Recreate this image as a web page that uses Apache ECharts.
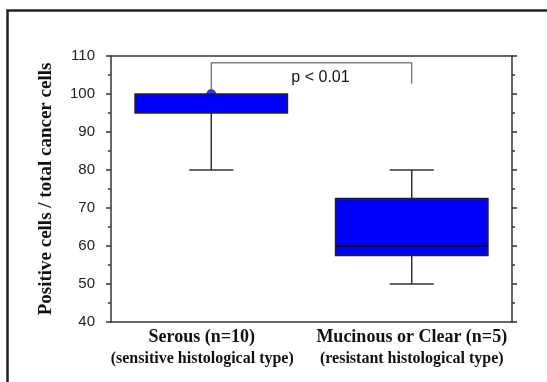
<!DOCTYPE html>
<html>
<head>
<meta charset="utf-8">
<script src="https://cdn.jsdelivr.net/npm/echarts@6/dist/echarts.min.js"></script>
<style>html,body{margin:0;padding:0;background:#fff;}#c{width:547px;height:382px;}</style>
</head>
<body>
<div id="c"></div>
<script>
// ---- data ----
const categories = ['Serous (n=10)', 'Mucinous or Clear (n=5)'];
const subLabels = ['(sensitive histological type)', '(resistant histological type)'];
const mins = [80, 50];
const q1s = [95, 57.5];
const medians = [100, 60];
const q3s = [100, 72.5];
const maxs = [100, 80];
const topMarker = [100, null];
const yTicks = [40, 50, 60, 70, 80, 90, 100, 110];
const bracketY = 108.2;
const bracketLegEnd = [101.2, 102.7];
const pLabel = 'p < 0.01';
const yTitle = 'Positive cells / total cancer cells';

const boxData = categories.map((c, i) => [i, mins[i], q1s[i], medians[i], q3s[i], maxs[i]]);
const markerData = topMarker.map((v, i) => v == null ? null : [i, v]).filter(d => d);

const chart = echarts.init(document.getElementById('c'), null, {renderer: 'canvas'});
const axisColor = '#333';
const serif = '"Liberation Serif","Times New Roman",serif';

const option = {
  backgroundColor: '#fff',
  animation: false,
  graphic: [{
    type: 'polyline', x: 0, y: 0, silent: true, z: -1,
    shape: {points: [[7.5, 390], [7.5, 10.5], [560, 10.5]]},
    style: {fill: 'none', stroke: '#222', lineWidth: 2.5}
  }],
  grid: {left: 111, right: 35, top: 56, bottom: 60},
  xAxis: [{
    type: 'category', data: categories, boundaryGap: true, position: 'bottom',
    axisLine: {lineStyle: {color: axisColor, width: 1.5}},
    axisTick: {alignWithLabel: true, length: 4, lineStyle: {color: axisColor, width: 1.5}},
    axisLabel: {
      margin: 4, interval: 0,
      formatter: (v, i) => i === 0 ? '{a0|' + v + '}\n{b0|' + subLabels[i] + '}' : '{a|' + v + '}\n{b|' + subLabels[i] + '}',
      rich: {
        a: {fontFamily: serif, fontWeight: 'bold', fontSize: 18, color: '#111', lineHeight: 22},
        b: {fontFamily: serif, fontWeight: 'bold', fontSize: 16, color: '#111', lineHeight: 21},
        a0: {fontFamily: serif, fontWeight: 'bold', fontSize: 18, color: '#111', lineHeight: 22, padding: [0, 19, 0, 0]},
        b0: {fontFamily: serif, fontWeight: 'bold', fontSize: 16, color: '#111', lineHeight: 21, padding: [0, 18, 0, 0]}
      }
    },
    splitLine: {show: false}
  }, {
    type: 'category', data: categories, boundaryGap: true, position: 'top',
    axisLine: {lineStyle: {color: axisColor, width: 1.5}},
    axisTick: {alignWithLabel: true, length: 3, lineStyle: {color: axisColor, width: 1.5}},
    axisLabel: {show: false},
    splitLine: {show: false}
  }],
  yAxis: [{
    type: 'value', min: yTicks[0], max: yTicks[yTicks.length - 1], interval: 10, position: 'left',
    name: yTitle, nameLocation: 'middle', nameRotate: 90, nameGap: 55,
    nameTextStyle: {fontFamily: serif, fontWeight: 'bold', fontSize: 19, color: '#111'},
    axisLine: {show: true, lineStyle: {color: axisColor, width: 1.5}},
    axisTick: {show: true, length: 5, lineStyle: {color: axisColor, width: 1.5}},
    minorTick: {show: true, splitNumber: 2, length: 3, lineStyle: {color: axisColor, width: 1.5}},
    axisLabel: {margin: 16, fontFamily: '"Liberation Sans",Arial,sans-serif', fontSize: 15, color: '#222'},
    splitLine: {show: false}
  }, {
    type: 'value', min: yTicks[0], max: yTicks[yTicks.length - 1], interval: 10, position: 'right',
    axisLine: {show: true, lineStyle: {color: axisColor, width: 1.5}},
    axisTick: {show: true, length: 5, lineStyle: {color: axisColor, width: 1.5}},
    minorTick: {show: true, splitNumber: 2, length: 3, lineStyle: {color: axisColor, width: 1.5}},
    axisLabel: {show: false},
    splitLine: {show: false}
  }],
  series: [{
    type: 'scatter', name: 'marker', xAxisIndex: 0, yAxisIndex: 0,
    data: markerData, symbol: 'circle', symbolSize: 9, z: 1,
    itemStyle: {color: '#0000ff', borderColor: '#1a1a99', borderWidth: 0.8}
  }, {
    type: 'custom', name: 'box', xAxisIndex: 0, yAxisIndex: 0,
    encode: {x: 0, y: [1, 2, 3, 4, 5]},
    data: boxData,
    z: 2,
    renderItem: function (params, api) {
      const i = api.value(0);
      const band = api.size([1, 0])[0];
      const bw = band * 0.76, cw = band * 0.22;
      const pMin = api.coord([i, api.value(1)]);
      const pQ1 = api.coord([i, api.value(2)]);
      const pMed = api.coord([i, api.value(3)]);
      const pQ3 = api.coord([i, api.value(4)]);
      const pMax = api.coord([i, api.value(5)]);
      const x = pMin[0];
      const ls = {stroke: '#333', lineWidth: 1.5};
      const children = [
        {type: 'line', shape: {x1: x, y1: pMin[1], x2: x, y2: pQ1[1]}, style: ls},
        {type: 'line', shape: {x1: x - cw / 2, y1: pMin[1], x2: x + cw / 2, y2: pMin[1]}, style: ls}
      ];
      if (Math.abs(pMax[1] - pQ3[1]) > 0.5) {
        children.push({type: 'line', shape: {x1: x, y1: pQ3[1], x2: x, y2: pMax[1]}, style: ls});
        children.push({type: 'line', shape: {x1: x - cw / 2, y1: pMax[1], x2: x + cw / 2, y2: pMax[1]}, style: ls});
      }
      children.push({type: 'rect', shape: {x: x - bw / 2, y: pQ3[1], width: bw, height: pQ1[1] - pQ3[1]},
        style: {fill: '#0000ff', stroke: '#222', lineWidth: 1.5}});
      if (Math.abs(pMed[1] - pQ3[1]) > 0.5 && Math.abs(pMed[1] - pQ1[1]) > 0.5) {
        children.push({type: 'line', shape: {x1: x - bw / 2, y1: pMed[1], x2: x + bw / 2, y2: pMed[1]},
          style: {stroke: '#111', lineWidth: 2}});
      }
      return {type: 'group', children: children};
    }
  }, {
    type: 'custom', name: 'bracket', xAxisIndex: 0, yAxisIndex: 0,
    encode: {x: 0, y: [1, 2]},
    data: [[0, bracketY, bracketLegEnd[0], bracketLegEnd[1]]],
    z: 4,
    renderItem: function (params, api) {
      const y = api.value(1);
      const a = api.coord([0, y]);
      const b = api.coord([1, y]);
      const aEnd = api.coord([0, api.value(2)]);
      const bEnd = api.coord([1, api.value(3)]);
      const ls = {stroke: '#444', lineWidth: 1};
      return {type: 'group', children: [
        {type: 'polyline', shape: {points: [[a[0], aEnd[1]], [a[0], a[1]], [b[0], b[1]], [b[0], bEnd[1]]]}, style: Object.assign({fill: 'none'}, ls)},
        {type: 'text', x: (a[0] + b[0]) / 2 + 9, y: a[1] + 15,
          style: {text: pLabel, fill: '#111', fontFamily: '"Liberation Sans",Arial,sans-serif', fontSize: 16, align: 'center', verticalAlign: 'middle'}}
      ]};
    }
  }]
};
chart.setOption(option);
</script>
</body>
</html>
